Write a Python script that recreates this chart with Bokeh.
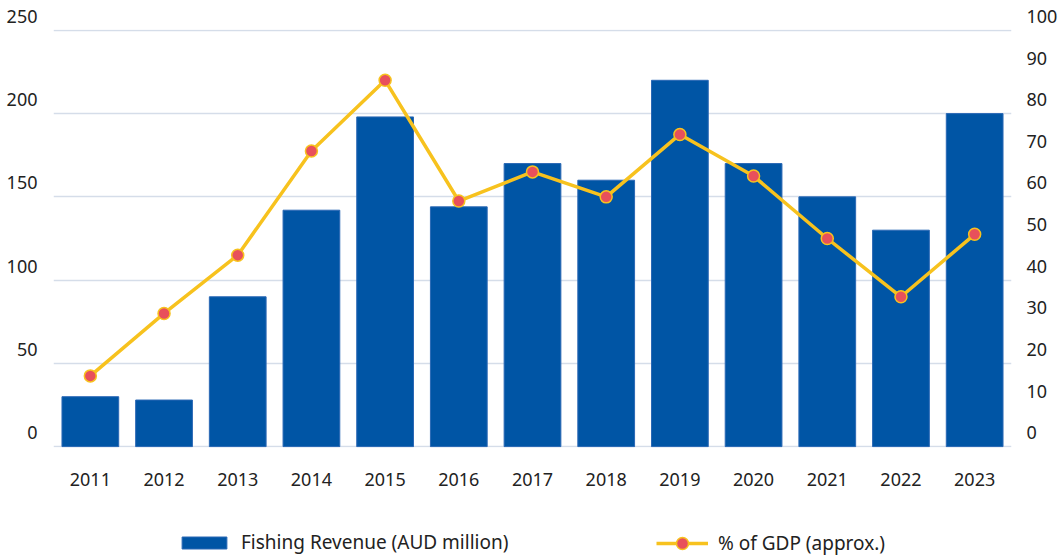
from bokeh.plotting import figure
from bokeh.layouts import column
from bokeh.models import Range1d, LinearAxis, FixedTicker, Legend, LegendItem
from bokeh.embed import file_html
from bokeh.resources import INLINE

years = ["2011", "2012", "2013", "2014", "2015", "2016", "2017",
         "2018", "2019", "2020", "2021", "2022", "2023"]
revenue = [30, 28, 90, 142, 198, 144, 170, 160, 220, 170, 150, 130, 200]
gdp_pct = [17, 32, 46, 71, 88, 59, 66, 60, 75, 65, 50, 36, 51]
left_ticks = [0, 50, 100, 150, 200, 250]
right_ticks = [0, 10, 20, 30, 40, 50, 60, 70, 80, 90, 100]
bar_label = "Fishing Revenue (AUD million)"
line_label = "% of GDP (approx.)"

BLUE = "#0055A5"
BAR_EDGE = "#2a68b5"
GOLD = "#F7C21E"
RED = "#E8505B"
TEXT = "#222222"
GRID = "#D5DDE9"
FONT = "Noto Sans"

# ---------------- main chart ----------------
p = figure(x_range=years, y_range=Range1d(-0.5, 250.5), width=1060, height=500,
           output_backend="svg", toolbar_location=None,
           min_border_left=53, min_border_right=47, min_border_top=29,
           min_border_bottom=53)
p.extra_y_ranges = {"pct": Range1d(-0.2, 100.2)}
p.x_range.range_padding = 0
p.outline_line_color = None

p.vbar(x=years, top=revenue, width=0.77, fill_color=BLUE,
       line_color=BAR_EDGE, line_width=1)
p.line(years, gdp_pct, y_range_name="pct", line_color=GOLD, line_width=3.5)
p.scatter(years, gdp_pct, y_range_name="pct", size=12, fill_color=RED,
          line_color=GOLD, line_width=1.5)

p.xgrid.grid_line_color = None
p.ygrid.grid_line_color = GRID
p.ygrid.grid_line_width = 1.5
p.ygrid.ticker = FixedTicker(ticks=left_ticks)

def style_axis(ax):
    ax.axis_line_color = None
    ax.major_tick_line_color = None
    ax.minor_tick_line_color = None
    ax.major_label_text_font = FONT
    ax.major_label_text_font_size = "18px"
    ax.major_label_text_color = TEXT

p.yaxis.ticker = FixedTicker(ticks=left_ticks)
style_axis(p.yaxis[0])
p.yaxis.major_label_standoff = 10
# labels sit just above their grid lines, as in the reference
p.yaxis.major_label_overrides = {t: f"{t}\n" for t in left_ticks}

right = LinearAxis(y_range_name="pct", ticker=FixedTicker(ticks=right_ticks))
style_axis(right)
right.major_label_standoff = 9
right.major_label_overrides = {t: f"{t}\n" for t in right_ticks}
p.add_layout(right, "right")

style_axis(p.xaxis[0])
p.xaxis.major_label_standoff = 19

# ---------------- legend strip ----------------
lg = figure(width=1060, height=56, output_backend="svg", toolbar_location=None,
            x_range=Range1d(0, 1), y_range=Range1d(0, 1),
            x_axis_type=None, y_axis_type=None,
            min_border_left=0, min_border_right=0, min_border_top=0,
            min_border_bottom=0)
lg.outline_line_color = None
lg.xgrid.visible = False
lg.ygrid.visible = False

# key glyphs: styled like the chart's marks, placed outside the strip's view
kb = lg.vbar(x=[-10], top=[-10], width=0.5, fill_color=BLUE,
             line_color=BAR_EDGE, line_width=1)
kl = lg.line(x=[-10, -9], y=[-10, -10], line_color=GOLD, line_width=3.5)
kp = lg.scatter(x=[-10], y=[-10], size=12, fill_color=RED, line_color=GOLD,
                line_width=1.5)

common = dict(orientation="horizontal", border_line_color=None, padding=0,
              margin=0, background_fill_alpha=0, label_text_font=FONT,
              label_text_font_size="19px", label_text_color=TEXT)
leg_a = Legend(items=[LegendItem(label=bar_label, renderers=[kb])],
               location=(123, 1), glyph_width=56, glyph_height=15,
               label_standoff=9, **common)
leg_b = Legend(items=[LegendItem(label=line_label, renderers=[kl, kp])],
               location=(603, -2), glyph_width=52, glyph_height=30,
               label_standoff=10, **common)
lg.add_layout(leg_a)
lg.add_layout(leg_b)

layout = column(p, lg, spacing=0)
open("out.html", "w").write(file_html(layout, INLINE))
